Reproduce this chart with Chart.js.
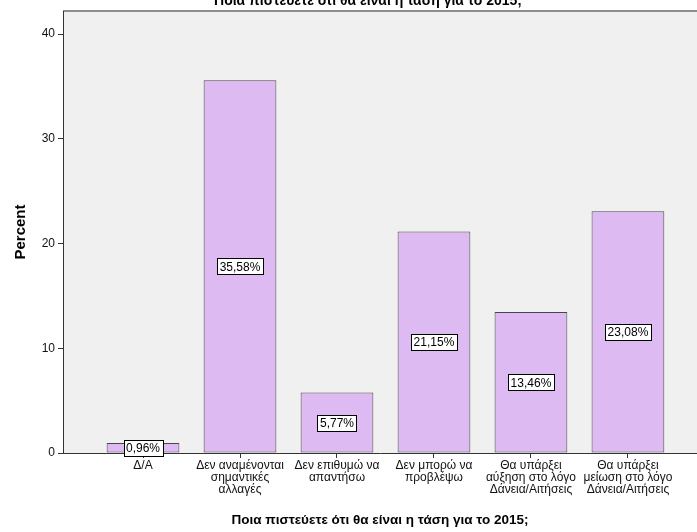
<!DOCTYPE html>
<html>
<head>
<meta charset="utf-8">
<script src="https://cdn.jsdelivr.net/npm/chart.js@4"></script>
<style>
  body { margin: 0; background: #ffffff; }
  #wrap { width: 697px; height: 532px; }
</style>
</head>
<body>
<div id="wrap"><canvas id="chart" width="697" height="532"></canvas></div>
<script>
// answer categories (wrapped the way they appear under the axis)
var categories = [
  ["Δ/Α"],
  ["Δεν αναμένονται", "σημαντικές", "αλλαγές"],
  ["Δεν επιθυμώ να", "απαντήσω"],
  ["Δεν μπορώ να", "προβλέψω"],
  ["Θα υπάρξει", "αύξηση στο λόγο", "Δάνεια/Αιτήσεις"],
  ["Θα υπάρξει", "μείωση στο λόγο", "Δάνεια/Αιτήσεις"]
];
// percent of respondents per answer
var percents = [0.96, 35.58, 5.77, 21.15, 13.46, 23.08];
// y axis ticks
var yTicks = [0, 10, 20, 30, 40];

var questionText = "Ποια πιστεύετε ότι θα είναι η τάση για το 2015;";
var fontFamily = "'Liberation Sans', Arial, sans-serif";

// bars sit on a linear x axis so the side margins can be set freely
var points = percents.map(function (v, i) { return { x: i, y: v }; });

function pctLabel(v) {
  return v.toFixed(2).replace(".", ",") + "%";
}

// grey plot background plus the thin frame line along the top
var plotFrame = {
  id: "plotFrame",
  beforeDraw: function (chart) {
    var a = chart.chartArea, ctx = chart.ctx;
    ctx.save();
    ctx.fillStyle = "#f0f0f0";
    ctx.fillRect(a.left, a.top, a.right - a.left, a.bottom - a.top);
    ctx.strokeStyle = "#8c8c8c";
    ctx.lineWidth = 2;
    ctx.beginPath();
    ctx.moveTo(a.left, a.top);
    ctx.lineTo(a.right, a.top);
    ctx.stroke();
    ctx.restore();
  },
  afterDraw: function (chart) {
    // heading, mostly pushed off the top of the canvas
    var ctx = chart.ctx;
    ctx.save();
    ctx.font = "bold 14px " + fontFamily;
    ctx.fillStyle = "#000";
    ctx.textAlign = "center";
    ctx.textBaseline = "alphabetic";
    ctx.fillText(questionText, 368, 5);
    ctx.restore();
  }
};

// boxed value label in the middle of each bar
var boxLabels = {
  id: "boxLabels",
  afterDatasetsDraw: function (chart) {
    var ctx = chart.ctx;
    var meta = chart.getDatasetMeta(0);
    ctx.save();
    ctx.font = "12px " + fontFamily;
    ctx.textAlign = "center";
    ctx.textBaseline = "middle";
    meta.data.forEach(function (bar, i) {
      var txt = pctLabel(percents[i]);
      var w = Math.round(ctx.measureText(txt).width) + 5;
      var h = 16;
      var cy = (bar.y + bar.base) / 2;
      var x0 = Math.round(bar.x - w / 2) + 0.5;
      var y0 = Math.round(cy - h / 2) + 0.5;
      ctx.fillStyle = "#ffffff";
      ctx.fillRect(x0, y0, w, h);
      ctx.strokeStyle = "#000000";
      ctx.lineWidth = 1;
      ctx.strokeRect(x0, y0, w, h);
      ctx.fillStyle = "#000000";
      ctx.fillText(txt, bar.x, cy + 1);
    });
    ctx.restore();
  }
};

var ctx = document.getElementById("chart").getContext("2d");
var chart = new Chart(ctx, {
  type: "bar",
  data: {
    datasets: [{
      data: points,
      backgroundColor: "rgb(221, 186, 242)",
      borderColor: "#474747",
      borderWidth: 1,
      borderSkipped: false,
      barPercentage: 0.75,
      categoryPercentage: 1
    }]
  },
  options: {
    responsive: false,
    animation: false,
    layout: { padding: { top: 11, right: 0, left: 0, bottom: 0 } },
    plugins: {
      legend: { display: false },
      tooltip: { enabled: false }
    },
    scales: {
      x: {
        type: "linear",
        offset: false,
        min: -0.825,
        max: 5.712,
        afterBuildTicks: function (scale) {
          scale.ticks = categories.map(function (c, i) { return { value: i }; });
        },
        afterFit: function (scale) { scale.height = 79; },
        ticks: {
          autoSkip: false,
          maxRotation: 0,
          padding: 2,
          color: "#111111",
          font: { family: fontFamily, size: 12, lineHeight: 0.98 },
          callback: function (value) { return categories[value]; }
        },
        grid: {
          offset: false,
          drawOnChartArea: false,
          drawTicks: true,
          tickLength: 5,
          color: "#333333"
        },
        border: { display: true, color: "#333333", width: 1 },
        title: {
          display: true,
          text: questionText,
          color: "#000",
          padding: { top: 0, bottom: 4 },
          font: { family: fontFamily, size: 13.5, weight: "bold" }
        }
      },
      y: {
        min: 0,
        max: 42.2,
        afterBuildTicks: function (scale) {
          scale.ticks = yTicks.map(function (v) { return { value: v }; });
        },
        afterFit: function (scale) { scale.width = 63; },
        ticks: {
          padding: 3,
          color: "#111111",
          font: { family: fontFamily, size: 12 }
        },
        grid: {
          drawOnChartArea: false,
          drawTicks: true,
          tickLength: 5,
          color: "#333333"
        },
        border: { display: true, color: "#333333", width: 1 },
        title: {
          display: true,
          text: "Percent",
          color: "#000",
          padding: { top: 12, bottom: 0 },
          font: { family: fontFamily, size: 15, weight: "bold" }
        }
      }
    }
  },
  plugins: [plotFrame, boxLabels]
});
</script>
</body>
</html>
